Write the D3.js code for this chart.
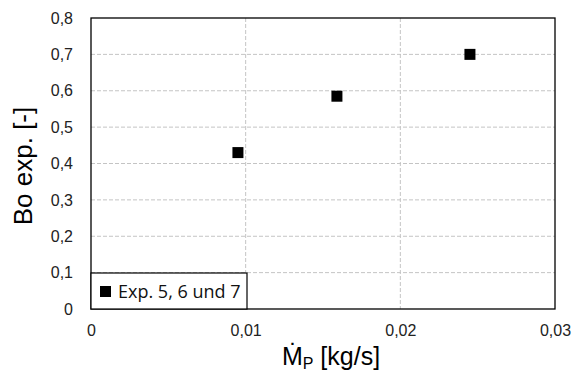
<!DOCTYPE html>
<html>
<head>
<meta charset="utf-8">
<script src="https://cdn.jsdelivr.net/npm/d3@7"></script>
<style>
  body { margin: 0; background: #fff; }
  svg { display: block; }
</style>
</head>
<body>
<div id="chart"></div>
<script>
// data
const massFlow = [0.0095, 0.0159, 0.0245];
const boExp = [0.43, 0.585, 0.70];
const xTicks = [0, 0.01, 0.02, 0.03];
const yTicks = [0, 0.1, 0.2, 0.3, 0.4, 0.5, 0.6, 0.7, 0.8];
const seriesName = "Exp. 5, 6 und 7";

const W = 574, H = 378;
const margin = { top: 18, right: 19, bottom: 69, left: 91 };
const width = W - margin.left - margin.right,
      height = H - margin.top - margin.bottom;

const svg = d3.select("#chart").append("svg")
  .attr("width", W).attr("height", H);

const g = svg.append("g")
  .attr("transform", `translate(${margin.left}, ${margin.top})`);

const x = d3.scaleLinear().domain([0, 0.03]).range([0, width]);
const y = d3.scaleLinear().domain([0, 0.8]).range([height, 0]);
const fmt = d => d3.format(".2~f")(d).replace(".", ",");

// grid
g.selectAll(".hgrid").data(yTicks.slice(1, -1)).enter().append("line")
  .attr("x1", 0).attr("x2", width)
  .attr("y1", d => y(d)).attr("y2", d => y(d))
  .attr("stroke", "#c4c4c4").attr("stroke-dasharray", "4,2");
g.selectAll(".vgrid").data(xTicks.slice(1, -1)).enter().append("line")
  .attr("y1", 0).attr("y2", height)
  .attr("x1", d => x(d)).attr("x2", d => x(d))
  .attr("stroke", "#c4c4c4").attr("stroke-dasharray", "4,2");

// frame
g.append("rect").attr("width", width).attr("height", height)
  .attr("fill", "none").attr("stroke", "#000").attr("stroke-width", 1.3);

// axes (labels only)
const yAxis = g.append("g").call(d3.axisLeft(y).tickValues(yTicks).tickFormat(fmt).tickSize(0).tickPadding(18));
const xAxis = g.append("g").attr("transform", `translate(0, ${height})`)
  .call(d3.axisBottom(x).tickValues(xTicks).tickFormat(fmt).tickSize(0).tickPadding(16));
[yAxis, xAxis].forEach(a => {
  a.select(".domain").remove();
  a.selectAll("text").attr("font-family", "Liberation Sans, Arial, sans-serif")
    .attr("font-size", 16).attr("fill", "#222");
});

// points
const pts = massFlow.map((m, i) => ({ m, bo: boExp[i] }));
const s = 11;
g.selectAll(".pt").data(pts).enter().append("rect")
  .attr("x", d => x(d.m) - s / 2).attr("y", d => y(d.bo) - s / 2)
  .attr("width", s).attr("height", s).attr("fill", "#000");

// legend
const leg = g.append("g").attr("transform", `translate(0, ${height - 36})`);
leg.append("rect").attr("width", 156).attr("height", 36)
  .attr("fill", "#fff").attr("stroke", "#000").attr("stroke-width", 1.2);
leg.append("rect").attr("x", 9).attr("y", 13).attr("width", 11).attr("height", 11).attr("fill", "#000");
leg.append("text").attr("x", 27).attr("y", 24.5)
  .attr("font-family", "Open Sans, sans-serif").attr("font-size", 18).attr("fill", "#111")
  .text(seriesName);

// axis titles
svg.append("text")
  .attr("transform", `translate(32, 166) rotate(-90)`)
  .attr("text-anchor", "middle")
  .attr("font-family", "Liberation Sans, Arial, sans-serif").attr("font-size", 26)
  .text("Bo exp. [-]");

const xt = svg.append("text")
  .attr("x", 331).attr("y", 365)
  .attr("text-anchor", "middle")
  .attr("font-family", "Liberation Sans, Arial, sans-serif").attr("font-size", 25);
xt.append("tspan").text("M\u0307");
xt.append("tspan").attr("font-size", 16).attr("dy", 4).text("P");
xt.append("tspan").attr("dy", -4).text(" [kg/s]");
</script>
</body>
</html>
